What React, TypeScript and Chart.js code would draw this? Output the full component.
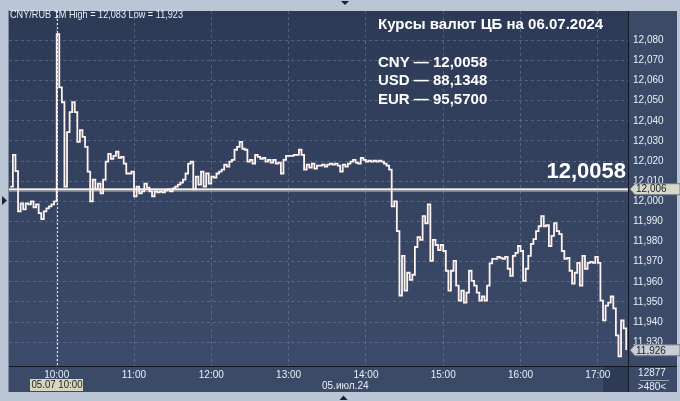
import React, { useEffect, useRef } from "react";
import { Chart, registerables } from "chart.js";

Chart.register(...registerables);

// minutes since 09:00, 2-minute sampling
const START_MIN = 24;
const STEP_MIN = 2;
const prices: number[] = [
  12.0073, 12.0231, 12.0150, 11.9950, 11.9990, 11.9960, 11.9990, 11.9985, 12.0000, 11.9970,
  11.9985, 11.9941, 11.9911, 11.9950, 11.9965, 11.9975, 11.9985, 12.0000,
  12.0830, 12.0566, 12.0492, 12.0073, 12.0344, 12.0443, 12.0492, 12.0443, 12.0295, 12.0354,
  12.0320, 12.0270, 12.0147, 12.0000, 12.0108, 12.0059, 12.0088, 12.0039, 12.0108, 12.0197,
  12.0236, 12.0211, 12.0226, 12.0246, 12.0216, 12.0221, 12.0187, 12.0138, 12.0138, 12.0147,
  12.0024, 12.0073, 12.0039, 12.0049, 12.0088, 12.0068, 12.0049, 12.0024, 12.0049, 12.0044,
  12.0049, 12.0044, 12.0054, 12.0059, 12.0049, 12.0064, 12.0073, 12.0083, 12.0093, 12.0108,
  12.0138, 12.0187, 12.0197, 12.0059, 12.0123, 12.0083, 12.0147, 12.0073, 12.0138, 12.0088,
  12.0123, 12.0118, 12.0138, 12.0147, 12.0157, 12.0182, 12.0172, 12.0197, 12.0206, 12.0256,
  12.0270, 12.0295, 12.0261, 12.0256, 12.0197, 12.0206, 12.0187, 12.0231, 12.0221, 12.0211,
  12.0216, 12.0197, 12.0206, 12.0192, 12.0206, 12.0187, 12.0192, 12.0138, 12.0206, 12.0226,
  12.0226, 12.0226, 12.0231, 12.0231, 12.0256, 12.0231, 12.0157, 12.0182, 12.0167, 12.0187,
  12.0162, 12.0177, 12.0177, 12.0182, 12.0172, 12.0182, 12.0187, 12.0182, 12.0187, 12.0177,
  12.0147, 12.0182, 12.0172, 12.0187, 12.0197, 12.0206, 12.0192, 12.0187, 12.0216, 12.0206,
  12.0197, 12.0202, 12.0197, 12.0202, 12.0197, 12.0202, 12.0197, 12.0187, 12.0177, 12.0157,
  11.9975, 12.0000, 11.9852, 11.9532, 11.9729, 11.9556, 11.9645, 11.9610, 11.9635, 11.9773,
  11.9822, 11.9808, 11.9926, 11.9891, 11.9985, 11.9704, 11.9808, 11.9783, 11.9758, 11.9783,
  11.9753, 11.9655, 11.9556, 11.9655, 11.9704, 11.9581, 11.9507, 11.9556, 11.9497, 11.9546,
  11.9655, 11.9605, 11.9581, 11.9546, 11.9507, 11.9527, 11.9507, 11.9581, 11.9692, 11.9714,
  11.9714, 11.9724, 11.9719, 11.9714, 11.9724, 11.9665, 11.9630, 11.9729, 11.9744, 11.9778,
  11.9753, 11.9605, 11.9665, 11.9729, 11.9788, 11.9812, 11.9852, 11.9876, 11.9926, 11.9876,
  11.9881, 11.9778, 11.9828, 11.9891, 11.9852, 11.9837, 11.9753, 11.9714, 11.9719, 11.9655,
  11.9591, 11.9645, 11.9694, 11.9581, 11.9729, 11.9665, 11.9694, 11.9699, 11.9694, 11.9724,
  11.9694, 11.9507, 11.9408, 11.9482, 11.9497, 11.9527, 11.9468, 11.9334, 11.9230, 11.9408,
  11.9369, 11.9261,
];

const BASE_HOUR = 9;
const hourTicks = [60, 120, 180, 240, 300, 360, 420, 480];
const priceTicks = [11.93, 11.94, 11.95, 11.96, 11.97, 11.98, 11.99, 12.0, 12.01, 12.02, 12.03, 12.04, 12.05, 12.06, 12.07, 12.08];
const X_MIN = 22.98;
const X_MAX = 503.4;
const Y_MIN = 11.91818;
const Y_MAX = 12.09453;

const cbRate = 12.0058;
const lastPrice = 11.926;
const markerPrice = 12.006;
const markerMinute = 60;
const headerText = "CNY/RUB 1M High = 12,083 Low = 11,923";
const titleText = "Курсы валют ЦБ на 06.07.2024";
const rateLines = ["CNY — 12,0058", "USD — 88,1348", "EUR — 95,5700"];
const bigRate = "12,0058";
const dateLabel = "05.июл.24";
const cursorLabel = "05.07 10:00";
const barCount = "12877";
const visibleCount = ">480<";

const FONT = '"Liberation Sans", Arial, sans-serif';
const FRAME = "#bac6d5";
const PANEL = "#3b4a67";
const LABEL = "#e9eff8";

const decor = {
  id: "decor",
  beforeDraw(chart: any) {
    const ctx = chart.ctx as CanvasRenderingContext2D;
    const { left, top, right, bottom } = chart.chartArea;
    ctx.save();
    ctx.fillStyle = FRAME;
    ctx.fillRect(0, 0, 680, 401);
    const g = ctx.createLinearGradient(0, top, 0, bottom);
    g.addColorStop(0, "#2c3a56");
    g.addColorStop(1, "#3c4b69");
    ctx.fillStyle = g;
    ctx.fillRect(left, top, right - left, bottom - top);
    ctx.fillStyle = PANEL;
    ctx.fillRect(right, top, 677 - right, 392 - top);
    ctx.fillRect(left, bottom, right - left, 392 - bottom);
    ctx.fillStyle = "#2e3b55";
    ctx.fillRect(603, bottom + 1, right - 603, 392 - bottom - 1);
    ctx.fillStyle = "#111822";
    ctx.fillRect(Math.round(right), top, 1, 392 - top);
    ctx.fillRect(left, Math.round(bottom), 677 - left, 1);
    ctx.fillStyle = "#7d8ba0";
    ctx.fillRect(left - 1, top - 1, 1, 392 - top + 1);
    ctx.restore();
  },
  beforeDatasetsDraw(chart: any) {
    const ctx = chart.ctx as CanvasRenderingContext2D;
    const { left, top, right, bottom } = chart.chartArea;
    const xs = chart.scales.x;
    const ys = chart.scales.y;
    ctx.save();
    const cx = Math.round(xs.getPixelForValue(markerMinute)) + 0.5;
    ctx.strokeStyle = "#f4f4f4";
    ctx.lineWidth = 1;
    ctx.setLineDash([2, 2]);
    ctx.beginPath();
    ctx.moveTo(cx, top);
    ctx.lineTo(cx, bottom);
    ctx.stroke();
    ctx.setLineDash([]);
    const ry = ys.getPixelForValue(cbRate);
    ctx.fillStyle = "#f2f0ee";
    ctx.fillRect(left, ry - 1.3, right - left, 2);
    ctx.fillStyle = "#a8a6a4";
    ctx.fillRect(left, ry + 0.7, right - left, 1.3);
    ctx.restore();
  },
  afterDraw(chart: any) {
    const ctx = chart.ctx as CanvasRenderingContext2D;
    const { right } = chart.chartArea;
    const ys = chart.scales.y;
    ctx.save();
    ctx.textBaseline = "middle";
    ctx.textAlign = "left";
    ctx.fillStyle = LABEL;
    ctx.font = `11px ${FONT}`;
    ctx.fillText(headerText, 10, 14.5, 173);
    ctx.fillStyle = "#ffffff";
    ctx.font = `bold 15px ${FONT}`;
    ctx.fillText(titleText, 378, 25, 241);
    rateLines.forEach((t, i) => ctx.fillText(t, 378, 63 + i * 18.3, 118));
    ctx.font = `bold 22px ${FONT}`;
    ctx.textAlign = "right";
    ctx.fillText(bigRate, 626, 171.5);
    ctx.textAlign = "left";

    const tag = (v: number, text: string, bg: string) => {
      const y = ys.getPixelForValue(v);
      ctx.fillStyle = bg;
      ctx.strokeStyle = "#6e7a88";
      ctx.lineWidth = 1;
      ctx.beginPath();
      ctx.moveTo(right + 2, y);
      ctx.lineTo(right + 7, y - 5.5);
      ctx.lineTo(680, y - 5.5);
      ctx.lineTo(680, y + 5.5);
      ctx.lineTo(right + 7, y + 5.5);
      ctx.closePath();
      ctx.fill();
      ctx.stroke();
      ctx.fillStyle = "#1a1e26";
      ctx.font = `10px ${FONT}`;
      ctx.fillText(text, right + 8, y + 0.5);
    };
    tag(markerPrice, markerPrice.toFixed(3).replace(".", ","), "#d7d9c6");
    tag(lastPrice, lastPrice.toFixed(3).replace(".", ","), "#c9cdd5");

    ctx.fillStyle = "#d7d7c0";
    ctx.fillRect(30, 379, 53, 12);
    ctx.fillStyle = "#1c1c1c";
    ctx.font = `10px ${FONT}`;
    ctx.fillText(cursorLabel, 31.5, 385.5, 51);

    ctx.fillStyle = LABEL;
    ctx.fillText(dateLabel, 322, 386);

    ctx.textAlign = "center";
    ctx.fillText(barCount, 652, 373);
    ctx.fillText(visibleCount, 652, 387);
    ctx.fillStyle = "#9aa6b8";
    ctx.fillRect(640, 380, 29, 1);

    ctx.fillStyle = "#1a2433";
    ctx.beginPath();
    ctx.moveTo(2, 196);
    ctx.lineTo(7, 200.5);
    ctx.lineTo(2, 205);
    ctx.closePath();
    ctx.fill();
    ctx.beginPath();
    ctx.moveTo(339.5, 400);
    ctx.lineTo(343.5, 395.5);
    ctx.lineTo(347.5, 400);
    ctx.closePath();
    ctx.fill();
    ctx.beginPath();
    ctx.moveTo(341, 1);
    ctx.lineTo(349, 1);
    ctx.lineTo(345, 5);
    ctx.closePath();
    ctx.fill();
    ctx.restore();
  },
};

export default function App() {
  const ref = useRef<HTMLCanvasElement>(null);
  useEffect(() => {
    if (!ref.current) return;
    const points = prices.map((p, i) => ({ x: START_MIN + i * STEP_MIN, y: p }));
    const gridColor = "rgba(118,138,172,0.5)";
    const chart = new Chart(ref.current, {
      type: "line",
      data: {
        datasets: [
          {
            data: points,
            borderColor: "#fff3ef",
            borderWidth: 1.8,
            pointRadius: 0,
            fill: false,
            stepped: true,
            tension: 0,
          },
        ],
      },
      options: {
        animation: false,
        responsive: false,
        maintainAspectRatio: false,
        events: [],
        layout: { padding: { left: 9, top: 8, right: 3, bottom: 9 } },
        plugins: { legend: { display: false }, tooltip: { enabled: false } },
        scales: {
          x: {
            type: "linear",
            position: "bottom",
            min: X_MIN,
            max: X_MAX,
            afterBuildTicks: (s: any) => {
              s.ticks = hourTicks.map((v) => ({ value: v }));
            },
            afterFit: (s: any) => {
              s.height = 26;
            },
            grid: { color: gridColor, drawTicks: false, lineWidth: 1 },
            border: { display: false, dash: [3, 3] },
            ticks: {
              color: LABEL,
              font: { size: 10, family: FONT },
              padding: 3,
              maxRotation: 0,
              autoSkip: false,
              callback: (v: any) => `${BASE_HOUR + Math.round(Number(v) / 60)}:00`,
            },
          },
          y: {
            type: "linear",
            position: "right",
            min: Y_MIN,
            max: Y_MAX,
            afterBuildTicks: (s: any) => {
              s.ticks = priceTicks.map((v) => ({ value: v }));
            },
            afterFit: (s: any) => {
              s.width = 49;
            },
            grid: { color: gridColor, drawTicks: false, lineWidth: 1 },
            border: { display: false, dash: [3, 3] },
            ticks: {
              color: LABEL,
              font: { size: 10, family: FONT },
              padding: 5,
              autoSkip: false,
              callback: (v: any) => Number(v).toFixed(3).replace(".", ","),
            },
          },
        },
      },
      plugins: [decor],
    } as any);
    return () => chart.destroy();
  }, []);
  return (
    <div style={{ position: "fixed", left: 0, top: 0, width: 680, height: 401 }}>
      <canvas ref={ref} width={680} height={401} style={{ display: "block", width: 680, height: 401 }} />
    </div>
  );
}
